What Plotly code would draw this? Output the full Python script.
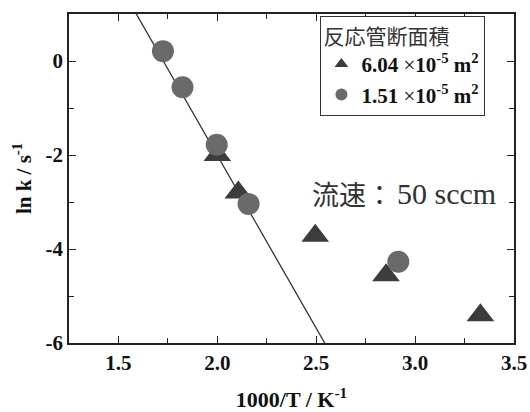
import numpy as np
import plotly.graph_objects as go

# Data
tri_x = [2.00, 2.106, 2.495, 2.853, 3.33]
tri_y = [-2.00, -2.80, -3.72, -4.56, -5.41]
circ_x = [1.725, 1.824, 1.997, 2.158, 2.915]
circ_y = [0.21, -0.56, -1.78, -3.04, -4.27]
fit_slope = -7.35
fit_intercept = 12.69
fit_x = [1.4, 2.7]
x_ticks = [1.5, 2.0, 2.5, 3.0, 3.5]
y_ticks = [-6, -4, -2, 0]

tri_name = "<b>6.04</b> ×<b>10<sup>-5</sup> m<sup>2</sup></b>"
circ_name = "<b>1.51</b> ×<b>10<sup>-5</sup> m<sup>2</sup></b>"

serif = "Times New Roman, Liberation Serif, serif"
cjk = "Noto Sans CJK JP"

fig = go.Figure()
fig.add_trace(go.Scatter(
    x=fit_x, y=[fit_slope * v + fit_intercept for v in fit_x],
    mode="lines", line=dict(color="#333333", width=1.3),
    showlegend=False, hoverinfo="skip"))
fig.add_trace(go.Scatter(
    x=tri_x, y=tri_y, mode="markers", name=tri_name,
    marker=dict(symbol="triangle-up", size=24, color="#3c3c3c")))
fig.add_trace(go.Scatter(
    x=circ_x, y=circ_y, mode="markers", name=circ_name,
    marker=dict(symbol="circle", size=22, color="#6a6a6a")))

axis_common = dict(
    showline=True, linecolor="#222222", linewidth=1.5, mirror="ticks",
    ticks="inside", ticklen=7, tickwidth=1.3, tickcolor="#222222",
    showgrid=False, zeroline=False, automargin=False,
    tickfont=dict(family=serif, size=21, color="#111111", weight="bold"),
)

fig.update_xaxes(
    range=[1.25, 3.5], tickvals=x_ticks,
    ticktext=["<b>%.1f</b>" % v for v in x_ticks],
    minor=dict(ticks="inside", ticklen=5, tickwidth=1.2, tickcolor="#222222", dtick=0.25, tick0=1.25),
    title=dict(text="<b>1000/T / K<sup>-1</sup></b>",
               font=dict(family=serif, size=22, color="#111111", weight="bold"), standoff=25),
    **axis_common)
fig.update_yaxes(
    range=[-6, 1], tickvals=y_ticks,
    ticktext=["<b>%d</b>" % v for v in y_ticks],
    minor=dict(ticks="inside", ticklen=5, tickwidth=1.2, tickcolor="#222222", dtick=1, tick0=0),
    title=dict(text="<b>ln k / s<sup>-1</sup></b>",
               font=dict(family=serif, size=21, color="#111111", weight="bold"), standoff=8),
    **axis_common)

fig.add_annotation(
    x=0.733, y=0.453, xref="paper", yref="paper", xanchor="right", yanchor="middle",
    text="流速：", showarrow=False,
    font=dict(family=cjk, size=27, color="#333333"))
fig.add_annotation(
    x=0.733, y=0.453, xref="paper", yref="paper", xanchor="left", yanchor="middle",
    text="50 sccm", showarrow=False,
    font=dict(family=serif, size=30, color="#333333"))

fig.update_layout(
    width=530, height=412,
    margin=dict(l=69, r=16, t=14, b=69, autoexpand=False),
    paper_bgcolor="white", plot_bgcolor="white",
    legend=dict(
        x=0.565, y=0.995, xanchor="left", yanchor="top",
        bordercolor="#333333", borderwidth=1, bgcolor="white",
        title=dict(text="反応管断面積", font=dict(family=cjk, size=21, color="#333333")),
        font=dict(family=serif, size=21, color="#111111"),
        itemsizing="constant", tracegroupgap=0,
    ),
)

fig.write_html("out.html")
